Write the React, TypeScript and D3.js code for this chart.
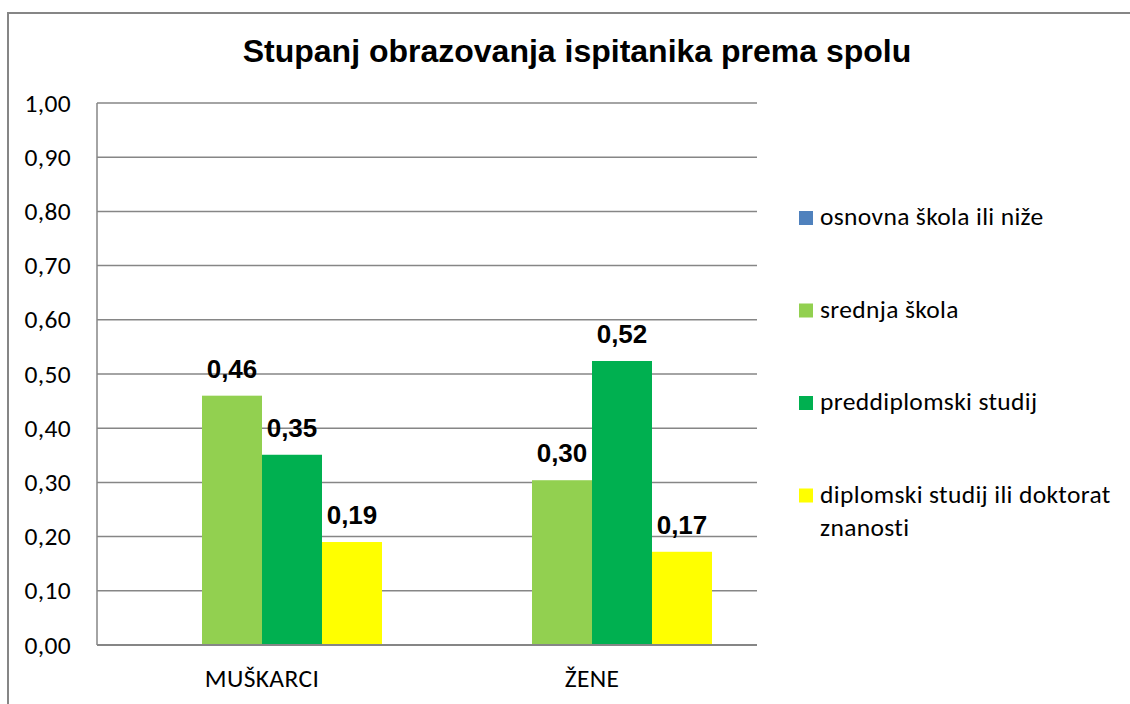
import React from "react";
import * as d3 from "d3";

const title = "Stupanj obrazovanja ispitanika prema spolu";
const categories = ["MUŠKARCI", "ŽENE"];
const seriesNames = [
  "osnovna škola ili niže",
  "srednja škola",
  "preddiplomski studij",
  "diplomski studij ili doktorat znanosti",
];
const seriesColors = ["#4F81BD", "#92D050", "#00B050", "#FFFF00"];
// values[series][category]
const osnovna = [0, 0];
const srednja = [0.46, 0.304];
const preddiplomski = [0.351, 0.524];
const diplomski = [0.19, 0.172];
const values = [osnovna, srednja, preddiplomski, diplomski];
const yTicks = [0, 0.1, 0.2, 0.3, 0.4, 0.5, 0.6, 0.7, 0.8, 0.9, 1.0];
const legendLines = [
  ["osnovna škola ili niže"],
  ["srednja škola"],
  ["preddiplomski studij"],
  ["diplomski studij ili doktorat", "znanosti"],
];

const calibri = "Carlito, Calibri, Lato, 'Open Sans', sans-serif";
const arial = "'Liberation Sans', Arial, Helvetica, sans-serif";
const grid = "#868686";
const fs = 25.5;
const ls = 0.35;

export default function App() {
  const left = 97, right = 757, top = 103, bottom = 645;
  const x0 = d3.scaleBand<string>().domain(categories).range([left, right]).paddingInner(0).paddingOuter(0);
  const x1 = d3
    .scaleBand<string>()
    .domain(seriesNames)
    .range([0, x0.bandwidth()])
    .paddingInner(0)
    .paddingOuter(0.75);
  const y = d3.scaleLinear().domain([0, 1]).range([bottom, top]);
  const fmt = (v: number) => v.toFixed(2).replace(".", ",");

  return (
    <svg
      width={1130}
      height={704}
      style={{ position: "absolute", left: 0, top: 0, background: "#fff" }}
    >
      <rect x={0} y={0} width={1130} height={704} fill="#fff" />
      <rect x={8} y={13} width={1300} height={900} fill="none" stroke={grid} strokeWidth={2} />
      <text
        x={577}
        y={62}
        textAnchor="middle"
        fontFamily={arial}
        fontWeight="bold"
        fontSize={32}
        fill="#000"
      >
        {title}
      </text>
      {yTicks.map((t) => (
        <g key={t}>
          <line x1={left} x2={right} y1={y(t)} y2={y(t)} stroke={grid} strokeWidth={1.5} />
          <text
            x={71}
            y={y(t) + 8.5}
            textAnchor="end"
            fontFamily={calibri}
            fontSize={fs}
            letterSpacing={ls}
            fill="#000"
          >
            {fmt(t)}
          </text>
        </g>
      ))}
      <line x1={left} x2={left} y1={top} y2={bottom} stroke={grid} strokeWidth={1.5} />
      {values.map((vals, si) =>
        categories.map((c, ci) => {
          const bx = (x0(c) as number) + (x1(seriesNames[si]) as number);
          const v = vals[ci];
          return (
            <g key={`${si}-${ci}`}>
              <rect
                x={bx}
                y={y(v)}
                width={x1.bandwidth()}
                height={bottom - y(v)}
                fill={seriesColors[si]}
              />
              {v > 0 && (
                <text
                  x={bx + x1.bandwidth() / 2}
                  y={y(v) - 18}
                  textAnchor="middle"
                  fontFamily={arial}
                  fontWeight="bold"
                  fontSize={26}
                  fill="#000"
                >
                  {fmt(v)}
                </text>
              )}
            </g>
          );
        })
      )}
      <line x1={left} x2={right} y1={bottom} y2={bottom} stroke={grid} strokeWidth={2} />
      {categories.map((c) => (
        <text
          key={c}
          x={(x0(c) as number) + x0.bandwidth() / 2}
          y={687}
          textAnchor="middle"
          fontFamily={calibri}
          fontSize={fs}
          letterSpacing={ls}
          fill="#000"
        >
          {c}
        </text>
      ))}
      {legendLines.map((lines, i) => {
        const by = 225 + i * 92.5;
        return (
          <g key={i}>
            <rect x={799} y={by - 14} width={14} height={14} fill={seriesColors[i]} />
            {lines.map((ln, li) => (
              <text
                key={li}
                x={820}
                y={by + li * 33}
                fontFamily={calibri}
                fontSize={fs}
                letterSpacing={ls}
                fill="#000"
              >
                {ln}
              </text>
            ))}
          </g>
        );
      })}
    </svg>
  );
}
